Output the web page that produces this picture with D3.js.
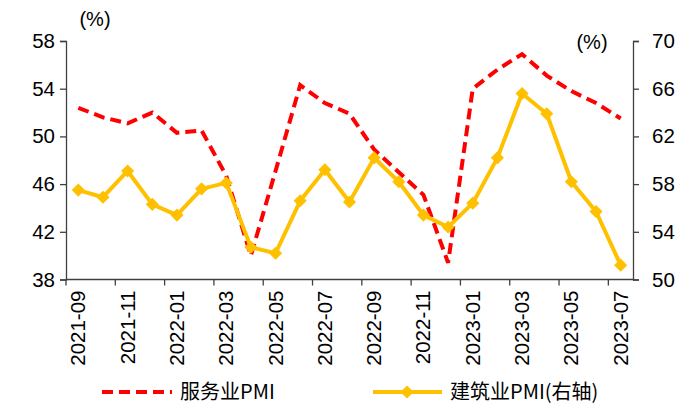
<!DOCTYPE html>
<html><head><meta charset="utf-8">
<script src="https://cdn.jsdelivr.net/npm/d3@7"></script>
<style>body{margin:0;background:#fff}svg{display:block}</style>
</head><body><div id="c"></div>
<script>
const months = ["2021-09","2021-10","2021-11","2021-12","2022-01","2022-02","2022-03","2022-04","2022-05","2022-06","2022-07","2022-08","2022-09","2022-10","2022-11","2022-12","2023-01","2023-02","2023-03","2023-04","2023-05","2023-06","2023-07"];
const servicesPMI = [52.4,51.6,51.1,52.0,50.3,50.5,46.7,40.0,47.1,54.3,52.8,51.9,48.9,47.0,45.1,39.4,54.0,55.6,56.9,55.1,53.8,52.8,51.5];
const constructionPMI = [57.5,56.9,59.1,56.3,55.4,57.6,58.1,52.7,52.2,56.6,59.2,56.5,60.2,58.2,55.4,54.4,56.4,60.2,65.6,63.9,58.2,55.7,51.2];
const leftTicks = [38,42,46,50,54,58];
const rightTicks = [50,54,58,62,66,70];
const seriesNames = ["服务业PMI","建筑业PMI(右轴)"];

const W=691,H=408, L=66, R=633, T=41, B=279.5;
const FONT = "'Liberation Sans', Arial, sans-serif";
const svg = d3.select("#c").append("svg").attr("width",W).attr("height",H);
const x = d3.scaleBand().domain(months).range([L,R]).padding(0);
const yL = d3.scaleLinear().domain([38,58]).range([B,T]);
const yR = d3.scaleLinear().domain([50,70]).range([B,T]);
const axisColor = "#404040";

const gl = svg.append("g").attr("transform",`translate(${L},0)`)
  .call(d3.axisLeft(yL).tickValues(leftTicks).tickSize(6).tickPadding(5));
const gr = svg.append("g").attr("transform",`translate(${R},0)`)
  .call(d3.axisRight(yR).tickValues(rightTicks).tickSize(6).tickPadding(13));
[gl,gr].forEach(g=>{
  g.select(".domain").attr("stroke",axisColor).attr("stroke-width",1.3);
  g.selectAll(".tick line").attr("stroke",axisColor).attr("stroke-width",1.3);
  g.selectAll("text").attr("font-family",FONT).attr("font-size",20.5).attr("fill","#000");
});

const gx = svg.append("g").attr("transform",`translate(0,${B})`);
gx.append("line").attr("x1",L).attr("x2",R).attr("stroke",axisColor).attr("stroke-width",1.3);
months.forEach((m,i)=>{
  if(i%2===0){
    gx.append("line").attr("x1",x(m)).attr("x2",x(m)).attr("y1",0).attr("y2",6)
      .attr("stroke",axisColor).attr("stroke-width",1.3);
    const cx = x(m)+x.bandwidth()/2;
    gx.append("text").attr("transform",`translate(${cx+7},11) rotate(-90)`)
      .attr("text-anchor","end").attr("font-family",FONT).attr("font-size",20.5)
      .text(m);
  }
});

svg.append("text").attr("x",95).attr("y",26).attr("text-anchor","middle")
  .attr("font-family",FONT).attr("font-size",20).text("(%)");
svg.append("text").attr("x",592).attr("y",49).attr("text-anchor","middle")
  .attr("font-family",FONT).attr("font-size",20).text("(%)");

const cxf = m => x(m)+x.bandwidth()/2;
svg.append("path").datum(servicesPMI)
  .attr("d", d3.line().x((d,i)=>cxf(months[i])).y(d=>yL(d)))
  .attr("fill","none").attr("stroke","#FF0000").attr("stroke-width",4)
  .attr("stroke-dasharray","11,6");
const yellow = "#FFC000";
svg.append("path").datum(constructionPMI)
  .attr("d", d3.line().x((d,i)=>cxf(months[i])).y(d=>yR(d)))
  .attr("fill","none").attr("stroke",yellow).attr("stroke-width",4).attr("stroke-linejoin","round");
const diamond = d3.symbol().type(d3.symbolDiamond2).size(110);
svg.append("g").selectAll("path").data(constructionPMI).join("path")
  .attr("transform",(d,i)=>`translate(${cxf(months[i])},${yR(d)})`)
  .attr("d",diamond).attr("fill",yellow);

const ly = 392;
svg.append("line").attr("x1",102).attr("x2",172).attr("y1",ly).attr("y2",ly)
  .attr("stroke","#FF0000").attr("stroke-width",4).attr("stroke-dasharray","11,6");
svg.append("text").attr("x",180).attr("y",ly+7).attr("font-family","'Noto Sans CJK SC', "+FONT)
  .attr("font-size",20).text(seriesNames[0]);
svg.append("line").attr("x1",373).attr("x2",442).attr("y1",ly).attr("y2",ly)
  .attr("stroke",yellow).attr("stroke-width",4);
svg.append("path").attr("transform",`translate(407,${ly})`).attr("d",diamond).attr("fill",yellow);
svg.append("text").attr("x",450).attr("y",ly+7).attr("font-family","'Noto Sans CJK SC', "+FONT)
  .attr("font-size",20).text(seriesNames[1]);
</script></body></html>
